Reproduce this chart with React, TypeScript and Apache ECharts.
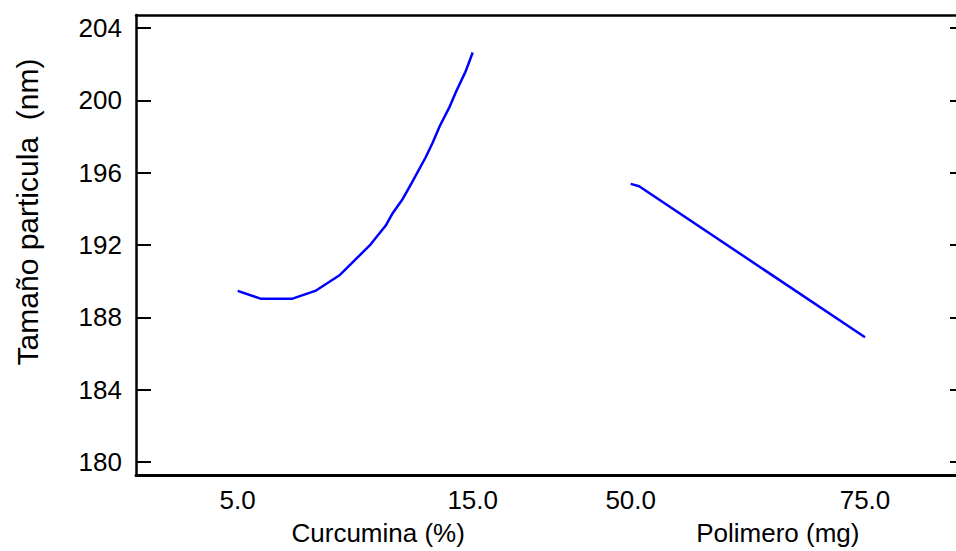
import React, { useEffect, useRef } from "react";
import * as echarts from "echarts";

// Main effects of the two factors on particle size
const curcuminaX = [5.0, 6.0, 7.3, 8.3, 9.35, 10.65, 11.3, 11.6, 12.0, 12.4, 13.0, 13.3, 13.6, 14.0, 14.3, 14.7, 15.0];
const curcuminaY = [189.36, 188.92, 188.92, 189.36, 190.25, 191.94, 193.0, 193.7, 194.43, 195.36, 196.8, 197.62, 198.54, 199.56, 200.48, 201.58, 202.63];
const polimeroX = [50.0, 50.9, 75.0];
const polimeroY = [195.32, 195.19, 186.78];

const yTicks = [180, 184, 188, 192, 196, 200, 204];
const curcuminaTicks = [5.0, 15.0];
const polimeroTicks = [50.0, 75.0];

const Y_MIN = 179.28;
const Y_MAX = 204.72;

const FONT = "'Liberation Sans', Arial, sans-serif";

export default function App() {
  const ref = useRef<HTMLDivElement>(null);

  useEffect(() => {
    if (!ref.current) return;
    const chart = echarts.init(ref.current, null, { renderer: "svg" });

    const frameTop = 15;
    const frameH = 460;
    const hiddenY = (gridIndex: number) => ({
      type: "value",
      gridIndex,
      min: Y_MIN,
      max: Y_MAX,
      show: false,
    });
    const factorX = (gridIndex: number, min: number, max: number, ticks: number[], name: string, shift: number) => ({
      type: "value",
      gridIndex,
      min,
      max,
      position: "bottom",
      name,
      nameLocation: "middle",
      nameGap: 48,
      nameTextStyle: { fontFamily: FONT, fontSize: 26, color: "#000", padding: [0, 0, 0, shift] },
      axisLine: { show: false, onZero: false },
      axisTick: { show: false },
      splitLine: { show: false },
      axisLabel: {
        customValues: ticks,
        formatter: (v: number) => v.toFixed(1),
        fontFamily: FONT,
        fontSize: 26,
        color: "#000",
        margin: 15,
      },
    });

    chart.setOption({
      animation: false,
      backgroundColor: "#fff",
      grid: [
        { left: 136, top: frameTop, width: 829, height: frameH },
        { left: 237.7, top: frameTop, width: 235, height: frameH },
        { left: 630.7, top: frameTop, width: 234.3, height: frameH },
      ],
      xAxis: [
        {
          type: "value", gridIndex: 0, min: 0, max: 1, position: "bottom",
          axisLine: { show: true, onZero: false, lineStyle: { color: "#000", width: 3 } },
          axisTick: { show: false }, axisLabel: { show: false }, splitLine: { show: false },
        },
        {
          type: "value", gridIndex: 0, min: 0, max: 1, position: "top",
          axisLine: { show: true, onZero: false, lineStyle: { color: "#000", width: 2.5 } },
          axisTick: { show: false }, axisLabel: { show: false }, splitLine: { show: false },
        },
        factorX(1, 5, 15, curcuminaTicks, "Curcumina (%)", 46),
        factorX(2, 50, 75, polimeroTicks, "Polimero (mg)", 60),
      ],
      yAxis: [
        {
          type: "value", gridIndex: 0, min: Y_MIN, max: Y_MAX, position: "left",
          name: "Tamaño particula  (nm)",
          nameLocation: "middle",
          nameGap: 94,
          nameTextStyle: { fontFamily: FONT, fontSize: 30, color: "#000", padding: [0, 0, 0, 66] },
          axisLine: { show: true, onZero: false, lineStyle: { color: "#000", width: 2.5 } },
          axisTick: { show: true, inside: true, length: 15, customValues: yTicks, lineStyle: { color: "#000", width: 2 } },
          axisLabel: {
            customValues: yTicks,
            formatter: (v: number) => String(Math.round(v)),
            fontFamily: FONT, fontSize: 26, color: "#000", margin: 14,
          },
          splitLine: { show: false },
        },
        {
          type: "value", gridIndex: 0, min: Y_MIN, max: Y_MAX, position: "right",
          axisLine: { show: true, onZero: false, lineStyle: { color: "#000", width: 2.5 } },
          axisTick: { show: true, inside: true, length: 15, customValues: yTicks, lineStyle: { color: "#000", width: 2 } },
          axisLabel: { show: false },
          splitLine: { show: false },
        },
        hiddenY(1),
        hiddenY(2),
      ],
      series: [
        {
          type: "line",
          name: "Curcumina",
          xAxisIndex: 2,
          yAxisIndex: 2,
          data: curcuminaX.map((x, i) => [x, curcuminaY[i]]),
          showSymbol: false,
          lineStyle: { color: "#0000ff", width: 2.5 },
        },
        {
          type: "line",
          name: "Polimero",
          xAxisIndex: 3,
          yAxisIndex: 3,
          data: polimeroX.map((x, i) => [x, polimeroY[i]]),
          showSymbol: false,
          lineStyle: { color: "#0000ff", width: 2.5 },
        },
      ],
    });

    return () => chart.dispose();
  }, []);

  return (
    <div style={{ position: "fixed", left: 0, top: 0, width: 956, height: 551, overflow: "hidden", background: "#fff" }}>
      <div ref={ref} style={{ width: 980, height: 551 }} />
    </div>
  );
}
